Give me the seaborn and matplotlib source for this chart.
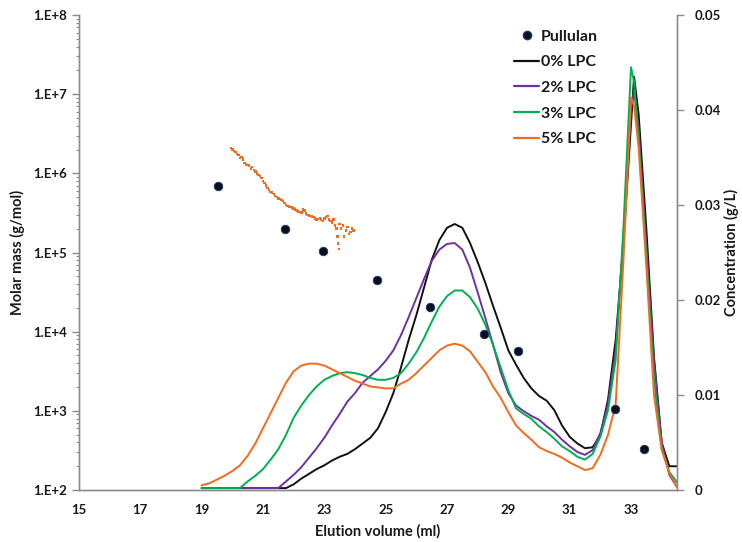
import numpy as np
import pandas as pd
import matplotlib
matplotlib.use("Agg")
import matplotlib.pyplot as plt
from matplotlib.lines import Line2D
from matplotlib.ticker import FixedLocator, FuncFormatter, LogLocator, NullFormatter
import seaborn as sns

# ---------------- data ----------------
elution_ml = [19.0, 19.25, 19.5, 19.75, 20.0, 20.25, 20.5, 20.75, 21.0, 21.25, 21.5, 21.75,
              22.0, 22.25, 22.5, 22.75, 23.0, 23.25, 23.5, 23.75, 24.0, 24.25, 24.5, 24.75,
              25.0, 25.25, 25.5, 25.75, 26.0, 26.25, 26.5, 26.75, 27.0, 27.25, 27.5, 27.75,
              28.0, 28.25, 28.5, 28.75, 29.0, 29.25, 29.5, 29.75, 30.0, 30.25, 30.5, 30.75,
              31.0, 31.25, 31.5, 31.75, 32.0, 32.25, 32.5, 32.75, 33.0, 33.1, 33.25, 33.5,
              33.75, 34.0, 34.25, 34.5]

conc_0 = [0.0002, 0.0002, 0.0002, 0.0002, 0.0002, 0.0002, 0.0002, 0.0002, 0.0002, 0.0002, 0.0002, 0.0002,
          0.0006, 0.0012, 0.0017, 0.0022, 0.0026, 0.0031, 0.0035, 0.0038, 0.0043, 0.0049, 0.0055, 0.0065,
          0.0082, 0.0102, 0.0129, 0.0158, 0.0184, 0.0213, 0.0242, 0.0263, 0.0276, 0.0280, 0.0276, 0.0260,
          0.0240, 0.0218, 0.0194, 0.0171, 0.0147, 0.0132, 0.0118, 0.0107, 0.0099, 0.0094, 0.0084, 0.0068,
          0.0056, 0.0049, 0.0044, 0.0045, 0.0058, 0.0095, 0.0158, 0.0258, 0.0385, 0.0435, 0.0395, 0.0275,
          0.0140, 0.0050, 0.0025, 0.0025]
conc_2 = [0.0002, 0.0002, 0.0002, 0.0002, 0.0002, 0.0002, 0.0002, 0.0002, 0.0002, 0.0002, 0.0002, 0.0009,
          0.0016, 0.0024, 0.0034, 0.0044, 0.0055, 0.0068, 0.0080, 0.0093, 0.0102, 0.0113, 0.0120, 0.0127,
          0.0136, 0.0147, 0.0163, 0.0182, 0.0202, 0.0222, 0.0241, 0.0253, 0.0259, 0.0260, 0.0253, 0.0234,
          0.0208, 0.0181, 0.0153, 0.0124, 0.0102, 0.0089, 0.0083, 0.0078, 0.0074, 0.0067, 0.0061, 0.0053,
          0.0046, 0.0040, 0.0037, 0.0042, 0.0060, 0.0090, 0.0147, 0.0263, 0.0400, 0.0421, 0.0380, 0.0258,
          0.0135, 0.0050, 0.0016, 0.0003]
conc_3 = [0.0002, 0.0002, 0.0002, 0.0002, 0.0002, 0.0002, 0.0009, 0.0015, 0.0022, 0.0032, 0.0043, 0.0058,
          0.0076, 0.0089, 0.0100, 0.0109, 0.0116, 0.0120, 0.0123, 0.0124, 0.0123, 0.0121, 0.0118, 0.0116,
          0.0116, 0.0118, 0.0123, 0.0133, 0.0145, 0.0160, 0.0177, 0.0193, 0.0204, 0.0210, 0.0210, 0.0203,
          0.0191, 0.0174, 0.0153, 0.0129, 0.0105, 0.0086, 0.0080, 0.0075, 0.0067, 0.0061, 0.0054, 0.0046,
          0.0041, 0.0035, 0.0032, 0.0038, 0.0056, 0.0084, 0.0137, 0.0274, 0.0445, 0.0430, 0.0368, 0.0247,
          0.0116, 0.0044, 0.0019, 0.0008]
conc_5 = [0.0005, 0.0007, 0.0011, 0.0015, 0.0020, 0.0026, 0.0036, 0.0049, 0.0065, 0.0081, 0.0097, 0.0113,
          0.0125, 0.0131, 0.0133, 0.0133, 0.0131, 0.0127, 0.0123, 0.0119, 0.0115, 0.0112, 0.0109, 0.0108,
          0.0107, 0.0107, 0.0112, 0.0116, 0.0123, 0.0131, 0.0139, 0.0147, 0.0152, 0.0154, 0.0152, 0.0146,
          0.0135, 0.0124, 0.0109, 0.0097, 0.0082, 0.0068, 0.0060, 0.0053, 0.0045, 0.0041, 0.0038, 0.0034,
          0.0029, 0.0025, 0.0021, 0.0023, 0.0037, 0.0058, 0.0090, 0.0240, 0.0413, 0.0405, 0.0360, 0.0235,
          0.0100, 0.0042, 0.0018, 0.0003]

series_names = ["0% LPC", "2% LPC", "3% LPC", "5% LPC"]
series_colors = ["#111111", "#7030a0", "#00b050", "#f26b1d"]

pullulan_ml = [19.53, 21.72, 22.96, 24.72, 26.45, 28.21, 29.32, 32.49, 33.43]
pullulan_mass = [6.9e5, 1.98e5, 1.05e5, 4.5e4, 2.05e4, 9.3e3, 5.7e3, 1.05e3, 3.3e2]

mm5_ml = [19.95, 20.00, 20.05, 20.10, 20.15, 20.20, 20.25, 20.30, 20.35, 20.40, 20.45, 20.50,
          20.55, 20.60, 20.65, 20.70, 20.75, 20.80, 20.85, 20.90, 20.95, 21.00, 21.05, 21.10,
          21.15, 21.20, 21.25, 21.30, 21.35, 21.40, 21.45, 21.50, 21.55, 21.60, 21.65, 21.70,
          21.75, 21.80, 21.85, 21.90, 21.95, 22.00, 22.05, 22.10, 22.15, 22.20, 22.25, 22.30,
          22.35, 22.40, 22.45, 22.50, 22.55, 22.60, 22.65, 22.70, 22.75, 22.80, 22.85, 22.90,
          22.95, 23.00, 23.05, 23.10, 23.15, 23.20, 23.25, 23.30, 23.35, 23.40, 23.43, 23.45,
          23.47, 23.50, 23.55, 23.60, 23.65, 23.70, 23.75, 23.80, 23.85, 23.90, 23.95]
mm5_mass = [2.1e6, 2.0e6, 1.9e6, 1.85e6, 1.75e6, 1.7e6, 1.55e6, 1.6e6, 1.5e6, 1.35e6, 1.3e6, 1.28e6,
            1.25e6, 1.15e6, 1.2e6, 1.1e6, 1.05e6, 1.0e6, 9.5e5, 9.2e5, 8.8e5, 8.0e5, 7.5e5, 7.0e5,
            6.5e5, 6.2e5, 5.8e5, 5.7e5, 5.5e5, 5.2e5, 5.0e5, 4.8e5, 4.7e5, 4.6e5, 4.5e5, 4.2e5,
            4.0e5, 3.9e5, 3.8e5, 3.75e5, 3.7e5, 3.6e5, 3.5e5, 3.4e5, 3.3e5, 3.25e5, 3.2e5, 3.5e5,
            3.4e5, 3.1e5, 3.0e5, 2.95e5, 2.9e5, 2.85e5, 2.8e5, 2.7e5, 2.6e5, 2.65e5, 2.75e5, 2.6e5,
            2.5e5, 2.7e5, 2.8e5, 2.9e5, 2.6e5, 2.5e5, 2.4e5, 2.6e5, 2.2e5, 2.0e5, 1.6e5, 1.3e5,
            1.1e5, 2.3e5, 2.0e5, 2.2e5, 1.6e5, 1.9e5, 2.1e5, 1.7e5, 1.8e5, 2.0e5, 1.9e5]

x_ticks = [15, 17, 19, 21, 23, 25, 27, 29, 31, 33]
left_ticks = [1e2, 1e3, 1e4, 1e5, 1e6, 1e7, 1e8]
right_ticks = [0, 0.01, 0.02, 0.03, 0.04, 0.05]
right_tick_labels = ["0", "0.01", "0.02", "0.03", "0.04", "0.05"]

# ---------------- style ----------------
sns.set_theme(style="white")
plt.rcParams["font.family"] = ["Lato", "DejaVu Sans"]
plt.rcParams["font.weight"] = "bold"

fig = plt.figure(figsize=(7.42, 5.42), dpi=100)
ax = fig.add_axes([79 / 742, 1 - 490 / 542, (677 - 79) / 742, (490 - 15) / 542])
ax2 = ax.twinx()

spine_col = "#8c8c8c"
text_col = "#1a1a1a"

# concentration lines (right axis)
rows = []
for name, vals in zip(series_names, [conc_0, conc_2, conc_3, conc_5]):
    for x, v in zip(elution_ml, vals):
        rows.append({"ml": x, "conc": v, "series": name})
df = pd.DataFrame(rows)
sns.lineplot(data=df, x="ml", y="conc", hue="series", hue_order=series_names,
             palette=series_colors, ax=ax2, sort=False, estimator=None,
             linewidth=1.4, legend=False)

# molar mass (left axis)
df_p = pd.DataFrame({"ml": pullulan_ml, "mass": pullulan_mass})
df_m = pd.DataFrame({"ml": mm5_ml, "mass": mm5_mass})
ax.set_yscale("log")
sns.scatterplot(data=df_m, x="ml", y="mass", ax=ax, marker="s", s=3,
                color="#f26b1d", edgecolor="none", legend=False, zorder=3)
sns.scatterplot(data=df_p, x="ml", y="mass", ax=ax, marker="o", s=38,
                color="#0a0f1e", edgecolor="#1f3b6b", linewidth=0.6,
                legend=False, zorder=4)

ax.set_zorder(ax2.get_zorder() + 1)
ax.patch.set_visible(False)

# axes setup
ax.set_xlim(15, 34.5)
ax.set_ylim(1e2, 1e8)
ax2.set_ylim(0, 0.05)

ax.xaxis.set_major_locator(FixedLocator(x_ticks))
ax.yaxis.set_major_locator(FixedLocator(left_ticks))
ax.yaxis.set_minor_locator(LogLocator(base=10, subs=np.arange(2, 10), numticks=20))
ax.yaxis.set_minor_formatter(NullFormatter())
ax.yaxis.set_major_formatter(FuncFormatter(lambda v, p: "1.E+%d" % int(round(np.log10(v)))))
ax2.yaxis.set_major_locator(FixedLocator(right_ticks))
ax2.set_yticklabels(right_tick_labels)

for a in (ax, ax2):
    for s in a.spines.values():
        s.set_color(spine_col)
        s.set_linewidth(1.0)
    a.spines["top"].set_visible(False)
    a.tick_params(colors=spine_col, labelcolor=text_col, labelsize=9.5, width=1.0)

ax.tick_params(axis="both", which="major", direction="out", length=5)
ax.tick_params(axis="y", which="minor", direction="out", length=2.5, width=0.8, colors=spine_col, left=True)
ax.tick_params(axis="x", pad=5)
ax2.tick_params(axis="y", direction="out", length=5, pad=8)
for lab in ax.get_xticklabels() + ax.get_yticklabels() + ax2.get_yticklabels():
    lab.set_fontweight("bold")

ax.set_xlabel("Elution volume (ml)", fontsize=10.5, fontweight="bold", color=text_col, labelpad=6)
ax.set_ylabel("Molar mass (g/mol)", fontsize=10.5, fontweight="bold", color=text_col, labelpad=6)
ax2.set_ylabel("Concentration (g/L)", fontsize=10.5, fontweight="bold", color=text_col,
               rotation=90, labelpad=2)
ax.grid(False)
ax2.grid(False)

# legend
handles = [Line2D([], [], marker="o", linestyle="none", color="#0a0f1e",
                  markeredgecolor="#1f3b6b", markersize=6)]
handles += [Line2D([], [], color=c, linewidth=1.6) for c in series_colors]
labels = ["Pullulan"] + series_names
leg = fig.legend(handles, labels, loc="upper left", bbox_to_anchor=(500 / 742, 1 - 15 / 542),
                 frameon=False, handlelength=1.55, handletextpad=0.1,
                 labelspacing=0.72, prop={"weight": "bold", "size": 11.5})
for t in leg.get_texts():
    t.set_color(text_col)

fig.savefig("out.png", dpi=100)
